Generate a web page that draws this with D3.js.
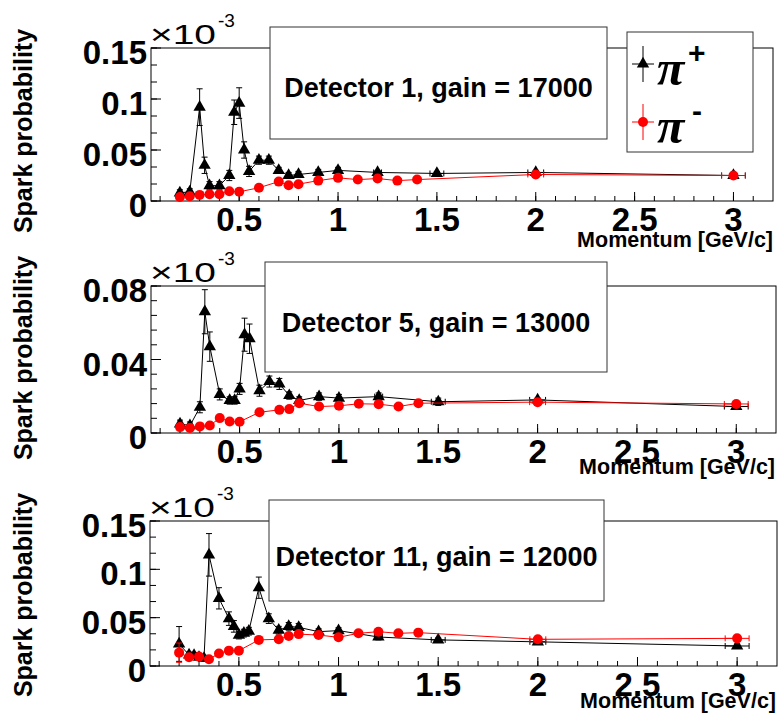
<!DOCTYPE html>
<html>
<head>
<meta charset="utf-8">
<script src="https://cdn.jsdelivr.net/npm/d3@7"></script>
<style>
  html, body { margin: 0; padding: 0; background: #fff; }
  svg { display: block; font-family: "Liberation Sans", Arial, Helvetica, sans-serif; }
</style>
</head>
<body>
<svg id="chart" width="779" height="713"></svg>
<script>
/* Spark probability vs momentum, three detectors, pi+ (black) and pi- (red).
   y values are in units of 1e-3 (axis carries the x10^-3 multiplier). */

var xTicks = [0.5, 1, 1.5, 2, 2.5, 3];
var yTicksWide = [0, 0.05, 0.1, 0.15];
var yTicksNarrow = [0, 0.04, 0.08];
var titles = ['Detector 1, gain = 17000', 'Detector 5, gain = 13000', 'Detector 11, gain = 12000'];

/* ---- Detector 1 ---- */
var d1PlusX   = [0.2, 0.25, 0.3, 0.325, 0.35, 0.4, 0.45, 0.475, 0.5, 0.525, 0.55, 0.6, 0.65, 0.7, 0.75, 0.8, 0.9, 1.0, 1.2, 1.5, 2, 3];
var d1PlusY   = [0.008, 0.009, 0.092, 0.035, 0.015, 0.015, 0.025, 0.087, 0.096, 0.050, 0.029, 0.040, 0.040, 0.030, 0.025, 0.026, 0.028, 0.030, 0.028, 0.027, 0.028, 0.025];
var d1PlusErr = [0.003, 0.003, 0.018, 0.008, 0.004, 0.004, 0.005, 0.012, 0.015, 0.008, 0.005, 0.004, 0.004, 0.003, 0.003, 0.003, 0.003, 0.003, 0.002, 0.002, 0.002, 0.002];
var d1PlusXErr = [0, 0, 0, 0, 0, 0, 0, 0, 0, 0, 0, 0, 0, 0, 0, 0, 0, 0, 0.02, 0.035, 0.04, 0.06];
var d1MinusX   = [0.2, 0.25, 0.3, 0.35, 0.4, 0.45, 0.5, 0.6, 0.7, 0.75, 0.8, 0.9, 1.0, 1.1, 1.2, 1.3, 1.4, 2, 3];
var d1MinusY   = [0.004, 0.0046, 0.006, 0.0066, 0.0066, 0.0095, 0.009, 0.013, 0.019, 0.0155, 0.0165, 0.020, 0.0227, 0.021, 0.022, 0.020, 0.021, 0.026, 0.025];
var d1MinusErr = [0.0015, 0.0015, 0.0015, 0.0015, 0.0015, 0.0015, 0.0015, 0.0015, 0.0015, 0.0015, 0.0015, 0.0015, 0.0015, 0.0015, 0.0015, 0.0015, 0.0015, 0.001, 0.001];
var d1MinusXErr = [0, 0, 0, 0, 0, 0, 0, 0, 0, 0, 0, 0, 0, 0, 0, 0, 0, 0.04, 0.06];

/* ---- Detector 5 ---- */
var d5PlusX   = [0.2, 0.25, 0.3, 0.325, 0.35, 0.4, 0.45, 0.475, 0.5, 0.525, 0.55, 0.6, 0.65, 0.7, 0.75, 0.8, 0.9, 1.0, 1.2, 1.5, 2, 3];
var d5PlusY   = [0.005, 0.004, 0.014, 0.066, 0.047, 0.021, 0.0177, 0.0177, 0.024, 0.0535, 0.0513, 0.023, 0.028, 0.0267, 0.0204, 0.0177, 0.0198, 0.019, 0.0198, 0.017, 0.018, 0.0144];
var d5PlusErr = [0.002, 0.002, 0.003, 0.012, 0.008, 0.003, 0.002, 0.002, 0.003, 0.009, 0.008, 0.003, 0.003, 0.003, 0.002, 0.002, 0.002, 0.002, 0.002, 0.002, 0.001, 0.001];
var d5PlusXErr = [0, 0, 0, 0, 0, 0, 0, 0, 0, 0, 0, 0, 0, 0, 0, 0, 0, 0, 0.02, 0.035, 0.04, 0.06];
var d5MinusX   = [0.2, 0.25, 0.3, 0.35, 0.4, 0.45, 0.5, 0.6, 0.7, 0.75, 0.8, 0.9, 1.0, 1.1, 1.2, 1.3, 1.4, 2, 3];
var d5MinusY   = [0.0032, 0.0027, 0.0036, 0.0041, 0.0081, 0.0063, 0.0061, 0.0113, 0.0126, 0.013, 0.0162, 0.0144, 0.0148, 0.0159, 0.0157, 0.0144, 0.0162, 0.0168, 0.0158];
var d5MinusErr = [0.001, 0.001, 0.001, 0.001, 0.0012, 0.001, 0.001, 0.0012, 0.0012, 0.0012, 0.0012, 0.0012, 0.0012, 0.0012, 0.0012, 0.0012, 0.0012, 0.001, 0.001];
var d5MinusXErr = [0, 0, 0, 0, 0, 0, 0, 0, 0, 0, 0, 0, 0, 0, 0, 0, 0, 0.04, 0.06];

/* ---- Detector 11 ---- */
var d11PlusX   = [0.2, 0.25, 0.275, 0.3, 0.325, 0.35, 0.4, 0.45, 0.475, 0.5, 0.525, 0.55, 0.6, 0.65, 0.7, 0.75, 0.8, 0.9, 1.0, 1.2, 1.5, 2, 3];
var d11PlusY   = [0.0228, 0.0114, 0.011, 0.009, 0.008, 0.115, 0.070, 0.049, 0.041, 0.032, 0.034, 0.036, 0.081, 0.049, 0.037, 0.041, 0.040, 0.0355, 0.0366, 0.030, 0.027, 0.025, 0.0207];
var d11PlusErr = [0.018, 0.003, 0.003, 0.003, 0.003, 0.022, 0.011, 0.007, 0.006, 0.004, 0.004, 0.004, 0.011, 0.005, 0.004, 0.004, 0.004, 0.003, 0.003, 0.003, 0.002, 0.002, 0.002];
var d11PlusXErr = [0, 0, 0, 0, 0, 0, 0, 0, 0, 0, 0, 0, 0, 0, 0, 0, 0, 0, 0, 0.02, 0.035, 0.04, 0.06];
var d11MinusX   = [0.2, 0.25, 0.3, 0.35, 0.4, 0.45, 0.5, 0.6, 0.7, 0.75, 0.8, 0.9, 1.0, 1.1, 1.2, 1.3, 1.4, 2, 3];
var d11MinusY   = [0.0138, 0.009, 0.0097, 0.0069, 0.013, 0.0159, 0.0159, 0.027, 0.0276, 0.031, 0.033, 0.032, 0.0297, 0.0338, 0.0355, 0.0338, 0.0345, 0.0276, 0.0286];
var d11MinusErr = [0.010, 0.002, 0.002, 0.002, 0.002, 0.002, 0.002, 0.002, 0.002, 0.002, 0.002, 0.002, 0.002, 0.002, 0.002, 0.002, 0.002, 0.002, 0.002];
var d11MinusXErr = [0, 0, 0, 0, 0, 0, 0, 0, 0, 0, 0, 0, 0, 0, 0, 0, 0, 0.04, 0.06];

(function () {
  'use strict';
  var svg = d3.select('#chart');
  var RED = '#ff0000', BLACK = '#000000', BOX = '#333333';
  var xDomain = [0.054, 3.2];

  function zipSeries(xs, ys, es, xes) {
    return xs.map(function (x, i) { return { x: x, y: ys[i], e: es[i], xe: xes[i] }; });
  }

  /* layout of each pad (pixels) */
  var pads = [
    { left: 151, right: 773, top: 48, bottom: 201, yMax: 0.15, yTicks: yTicksWide, minorDiv: 3,
      box: [270, 27, 607, 139], titleY: 97, momY: 247, momX: 773, sparkY: 131, legend: true,
      plus: zipSeries(d1PlusX, d1PlusY, d1PlusErr, d1PlusXErr),
      minus: zipSeries(d1MinusX, d1MinusY, d1MinusErr, d1MinusXErr), title: titles[0] },
    { left: 151, right: 776, top: 286, bottom: 433, yMax: 0.08, yTicks: yTicksNarrow, minorDiv: 5,
      box: [265, 262, 607, 372], titleY: 332, momY: 474, momX: 775, sparkY: 358, legend: false,
      plus: zipSeries(d5PlusX, d5PlusY, d5PlusErr, d5PlusXErr),
      minus: zipSeries(d5MinusX, d5MinusY, d5MinusErr, d5MinusXErr), title: titles[1] },
    { left: 150, right: 777, top: 521, bottom: 666, yMax: 0.15, yTicks: yTicksWide, minorDiv: 3,
      box: [269, 500, 604, 601], titleY: 566, momY: 708, momX: 776, sparkY: 595, legend: false,
      plus: zipSeries(d11PlusX, d11PlusY, d11PlusErr, d11PlusXErr),
      minus: zipSeries(d11MinusX, d11MinusY, d11MinusErr, d11MinusXErr), title: titles[2] }
  ];

  var triangle = d3.symbol().type(d3.symbolTriangle).size(66);

  function drawSeries(g, data, xs, ys, color, marker) {
    g.append('path').datum(data)
      .attr('d', d3.line().x(function (d) { return xs(d.x); }).y(function (d) { return ys(d.y); }))
      .attr('fill', 'none').attr('stroke', color).attr('stroke-width', 1);

    var eb = g.append('g').attr('stroke', color).attr('stroke-width', 1);
    data.forEach(function (d) {
      var cx = xs(d.x), cy = ys(d.y);
      if (d.e > 0) {
        var y1 = ys(d.y + d.e), y2 = ys(Math.max(0, d.y - d.e));
        eb.append('line').attr('x1', cx).attr('x2', cx).attr('y1', y1).attr('y2', y2);
        eb.append('line').attr('x1', cx - 3).attr('x2', cx + 3).attr('y1', y1).attr('y2', y1);
        eb.append('line').attr('x1', cx - 3).attr('x2', cx + 3).attr('y1', y2).attr('y2', y2);
      }
      if (d.xe > 0) {
        var x1 = xs(d.x - d.xe), x2 = xs(d.x + d.xe);
        eb.append('line').attr('x1', x1).attr('x2', x2).attr('y1', cy).attr('y2', cy);
        eb.append('line').attr('x1', x1).attr('x2', x1).attr('y1', cy - 3).attr('y2', cy + 3);
        eb.append('line').attr('x1', x2).attr('x2', x2).attr('y1', cy - 3).attr('y2', cy + 3);
      }
    });

    if (marker === 'triangle') {
      g.selectAll(null).data(data).enter().append('path')
        .attr('d', triangle)
        .attr('transform', function (d) { return 'translate(' + xs(d.x) + ',' + ys(d.y) + ')'; })
        .attr('fill', color);
    } else {
      g.selectAll(null).data(data).enter().append('circle')
        .attr('cx', function (d) { return xs(d.x); })
        .attr('cy', function (d) { return ys(d.y); })
        .attr('r', 5).attr('fill', color);
    }
  }

  pads.forEach(function (p) {
    var xs = d3.scaleLinear().domain(xDomain).range([p.left, p.right]);
    var ys = d3.scaleLinear().domain([0, p.yMax]).range([p.bottom, p.top]);
    var g = svg.append('g');

    /* frame */
    g.append('rect').attr('x', p.left).attr('y', p.top)
      .attr('width', p.right - p.left).attr('height', p.bottom - p.top)
      .attr('fill', 'none').attr('stroke', BLACK).attr('stroke-width', 1);

    /* y ticks */
    var step = p.yTicks[1] - p.yTicks[0];
    var yMinor = d3.range(0, p.yMax + 1e-9, step / p.minorDiv);
    g.selectAll(null).data(yMinor).enter().append('line')
      .attr('x1', p.left).attr('x2', p.left + 6)
      .attr('y1', function (d) { return ys(d); }).attr('y2', function (d) { return ys(d); })
      .attr('stroke', BLACK);
    g.selectAll(null).data(p.yTicks).enter().append('line')
      .attr('x1', p.left).attr('x2', p.left + 10)
      .attr('y1', function (d) { return ys(d); }).attr('y2', function (d) { return ys(d); })
      .attr('stroke', BLACK);
    g.selectAll(null).data(p.yTicks).enter().append('text')
      .attr('x', p.left - 4).attr('y', function (d) { return ys(d) + 16; })
      .attr('text-anchor', 'end').style('font-size', '33px').style('font-weight', 'bold')
      .text(function (d) { return d3.format('')(d); });

    /* x ticks */
    var xMinor = d3.range(0.1, 3.2, 0.1);
    g.selectAll(null).data(xMinor).enter().append('line')
      .attr('x1', function (d) { return xs(d); }).attr('x2', function (d) { return xs(d); })
      .attr('y1', p.bottom).attr('y2', p.bottom - 5).attr('stroke', BLACK);
    g.selectAll(null).data(xTicks).enter().append('line')
      .attr('x1', function (d) { return xs(d); }).attr('x2', function (d) { return xs(d); })
      .attr('y1', p.bottom).attr('y2', p.bottom - 9).attr('stroke', BLACK);
    g.selectAll(null).data(xTicks).enter().append('text')
      .attr('x', function (d) { return xs(d); }).attr('y', p.bottom + 30)
      .attr('text-anchor', 'middle').style('font-size', '33px').style('font-weight', 'bold')
      .text(function (d) { return d3.format('')(d); });

    /* axis titles */
    g.append('text').attr('x', p.momX).attr('y', p.momY)
      .attr('text-anchor', 'end').style('font-size', '21.5px').style('font-weight', 'bold')
      .text('Momentum [GeV/c]');
    g.append('text').attr('transform', 'translate(32,' + p.sparkY + ') rotate(-90)')
      .attr('text-anchor', 'middle').style('font-size', '25px').style('font-weight', 'bold')
      .text('Spark probability');

    /* x10^-3 multiplier */
    var mult = g.append('text').attr('x', p.left - 1).attr('y', p.top - 4);
    mult.append('tspan').style('font-size', '27px').attr('textLength', 66)
      .attr('lengthAdjust', 'spacingAndGlyphs').text('\u00D710');
    mult.append('tspan').attr('x', p.left + 67).attr('dy', -17).style('font-size', '19px').text('-3');

    /* data */
    drawSeries(g, p.plus, xs, ys, BLACK, 'triangle');
    drawSeries(g, p.minus, xs, ys, RED, 'circle');

    /* title box */
    var b = p.box;
    g.append('rect').attr('x', b[0]).attr('y', b[1]).attr('width', b[2] - b[0]).attr('height', b[3] - b[1])
      .attr('fill', '#fff').attr('stroke', BOX).attr('stroke-width', 1);
    g.append('text').attr('x', (b[0] + b[2]) / 2).attr('y', p.titleY)
      .attr('text-anchor', 'middle').style('font-size', '27px').style('font-weight', 'bold')
      .text(p.title);

    /* legend */
    if (p.legend) {
      g.append('rect').attr('x', 627).attr('y', 32).attr('width', 126).attr('height', 120)
        .attr('fill', '#fff').attr('stroke', BOX).attr('stroke-width', 1);
      var entries = [
        { cy: 64, color: BLACK, marker: 'triangle', sign: '+' },
        { cy: 122, color: RED, marker: 'circle', sign: '-' }
      ];
      entries.forEach(function (e) {
        var lg = g.append('g');
        lg.append('line').attr('x1', 643).attr('x2', 643).attr('y1', e.cy - 18).attr('y2', e.cy + 18).attr('stroke', e.color);
        lg.append('line').attr('x1', 632).attr('x2', 654).attr('y1', e.cy).attr('y2', e.cy).attr('stroke', e.color);
        if (e.marker === 'triangle') {
          lg.append('path').attr('d', triangle).attr('transform', 'translate(643,' + e.cy + ')').attr('fill', e.color);
        } else {
          lg.append('circle').attr('cx', 643).attr('cy', e.cy).attr('r', 5).attr('fill', e.color);
        }
        lg.append('text').attr('x', 657).attr('y', e.cy + 21)
          .style('font-family', '"Liberation Serif", serif').style('font-style', 'italic')
          .style('font-weight', 'bold').style('font-size', '50px')
          .text('\u03C0');
        lg.append('text').attr('x', e.sign === '+' ? 688 : 692).attr('y', e.cy - 1)
          .style('font-size', '30px').style('font-weight', 'bold')
          .text(e.sign);
      });
    }
  });
})();
</script>
</body>
</html>
